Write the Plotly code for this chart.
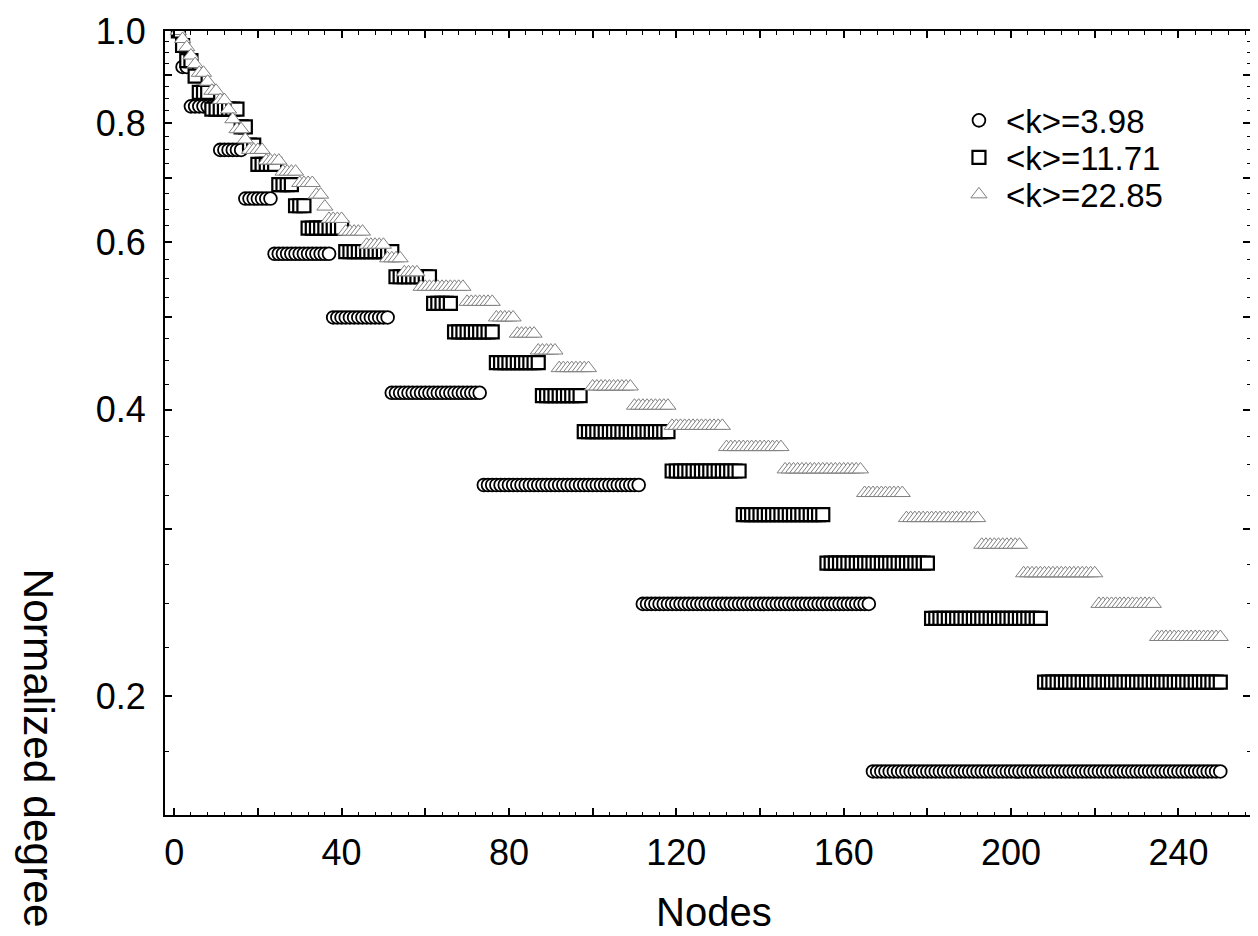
import numpy as np
import plotly.graph_objects as go

# ---------------- data (run-length description of the sorted degree sequences) -------------
# series 1: <k>=3.98, maximum degree 12
c_kmax = 12
c_degree = [12, 11, 10, 9, 8, 7, 6, 5, 4, 3, 2]
c_first = [1, 2, 4, 11, 17, 24, 38, 52, 74, 112, 167]
c_last = [1, 3, 10, 16, 23, 37, 51, 73, 111, 166, 250]

# series 2: <k>=11.71, maximum degree 29
s_kmax = 29
s_degree = [29, 28, 27, 26, 25, 24, 23, 22, 21, 20, 19, 18, 17, 16, 15, 14, 13, 12, 11, 10, 9, 8, 7, 6]
s_first = [1, 2, 3, 5, 6, 9, 16, 18, 20, 25, 29, 32, 41, 53, 62, 67, 77, 88, 98, 119, 136, 156, 181, 208]
s_last = [1, 2, 4, 5, 8, 15, 17, 19, 24, 28, 31, 40, 52, 61, 66, 76, 87, 97, 118, 135, 155, 180, 207, 250]

# series 3: <k>=22.85, maximum degree 52
t_kmax = 52
t_degree = [52, 51, 50, 49, 48, 47, 46, 45, 44, 43, 42, 41, 40, 39, 38, 37, 36, 35, 34, 33, 32,
            31, 30, 29, 28, 27, 26, 25, 24, 23, 22, 21, 20, 19, 18, 17, 16, 15, 14, 13, 12]
t_first = [1, 2, 3, 4, 5, 6, 8, 9, 11, 13, 14, 15, 17, 18, 22, 26, 30, 34, 36, 37, 41,
           46, 51, 55, 59, 70, 77, 82, 87, 92, 100, 110, 119, 132, 146, 165, 175, 193, 203, 221, 235]
t_last = [1, 2, 3, 4, 5, 7, 8, 10, 12, 13, 14, 16, 17, 21, 25, 29, 33, 35, 36, 40, 45,
          50, 54, 58, 69, 76, 81, 86, 91, 99, 109, 118, 131, 145, 164, 174, 192, 202, 220, 234, 250]

series_names = ["<k>=3.98", "<k>=11.71", "<k>=22.85"]

x_tick_vals = [0, 20, 40, 60, 80, 100, 120, 140, 160, 180, 200, 220, 240, 260]
x_tick_text = ["0", "", "40", "", "80", "", "120", "", "160", "", "200", "", "240", ""]
y_tick_vals = [0.2, 0.3, 0.4, 0.5, 0.6, 0.7, 0.8, 0.9, 1.0]
y_tick_text = ["0.2", "", "0.4", "", "0.6", "", "0.8", "", "1.0"]
y_minor_vals = [0.175, 0.225, 0.25, 0.275, 0.325, 0.35, 0.375, 0.425, 0.45, 0.475,
                0.525, 0.55, 0.575, 0.625, 0.65, 0.675, 0.725, 0.75, 0.775,
                0.825, 0.85, 0.875, 0.925, 0.95, 0.975]


def expand(kmax, degree, first, last):
    xs, ys = [], []
    for k, a, b in zip(degree, first, last):
        for n in range(a, b + 1):
            xs.append(n)
            ys.append(k / kmax)
    return xs, ys


FONT = "Liberation Sans, Arial, Helvetica, sans-serif"

fig = go.Figure()
styles = [
    dict(symbol="circle", size=12.8, color="white", line=dict(color="black", width=1.8)),
    dict(symbol="square", size=13, color="white", line=dict(color="black", width=2.2)),
    dict(symbol="triangle-up", size=14, color="white", line=dict(color="#808080", width=1)),
]
datasets = [
    (c_kmax, c_degree, c_first, c_last),
    (s_kmax, s_degree, s_first, s_last),
    (t_kmax, t_degree, t_first, t_last),
]
legend_ids = ["legend", "legend2", "legend3"]
legend_rows = [0.8860, 0.8388, 0.7916]   # row centres of the legend (paper units)
for name, st, ds, lid in zip(series_names, styles, datasets, legend_ids):
    xs, ys = expand(*ds)
    fig.add_trace(go.Scatter(x=xs, y=ys, mode="markers", name=name, marker=st, legend=lid))

legend_common = dict(x=0.7253, xanchor="left", yanchor="middle",
                     font=dict(size=33, family=FONT, color="black"),
                     bgcolor="rgba(0,0,0,0)", borderwidth=0, itemwidth=44)
# the page body adds an 8 px offset, so the figure is 8 px smaller than the window
fig.update_layout(
    template="none",
    width=1250, height=928,
    margin=dict(l=157, r=8, t=23, b=121, autoexpand=False),
    paper_bgcolor="white", plot_bgcolor="white",
    font=dict(family=FONT, color="black"),
    showlegend=True,
    legend=dict(y=legend_rows[0], **legend_common),
    legend2=dict(y=legend_rows[1], **legend_common),
    legend3=dict(y=legend_rows[2], **legend_common),
)
fig.update_xaxes(
    range=[-2.2, 257.1], automargin=False,
    showline=True, linecolor="black", linewidth=2, mirror="allticks",
    showgrid=False, zeroline=False,
    ticks="inside", ticklen=7, tickwidth=1.5, tickcolor="black",
    tickmode="array", tickvals=x_tick_vals, ticktext=x_tick_text,
    tickfont=dict(size=36, family=FONT, color="black"), ticklabelstandoff=5,
    minor=dict(ticks="inside", ticklen=3.5, tickwidth=1.2, tickcolor="black", dtick=4, tick0=0,
               showgrid=False),
)
fig.update_yaxes(
    type="log", range=[np.log10(0.15), 0.0], automargin=False,
    showline=True, linecolor="black", linewidth=2,
    mirror="allticks", showgrid=False, zeroline=False,
    ticks="inside", ticklen=7, tickwidth=1.5, tickcolor="black",
    tickmode="array", tickvals=y_tick_vals, ticktext=y_tick_text,
    tickfont=dict(size=36, family=FONT, color="black"), ticklabelstandoff=10,
    minor=dict(ticks="inside", ticklen=3.5, tickwidth=1.2, tickcolor="black",
               tickmode="array", tickvals=y_minor_vals, showgrid=False),
)
fig.add_annotation(text="Nodes", xref="paper", yref="paper", x=0.506, y=-0.1237,
                   xanchor="center", yanchor="middle", showarrow=False,
                   font=dict(size=40, family=FONT, color="black"))
fig.add_annotation(text="Normalized degree", xref="paper", yref="paper", x=-0.117, y=0.086,
                   xanchor="center", yanchor="middle", textangle=90, showarrow=False,
                   font=dict(size=42.5, family=FONT, color="black"))

fig.write_html("out.html")
